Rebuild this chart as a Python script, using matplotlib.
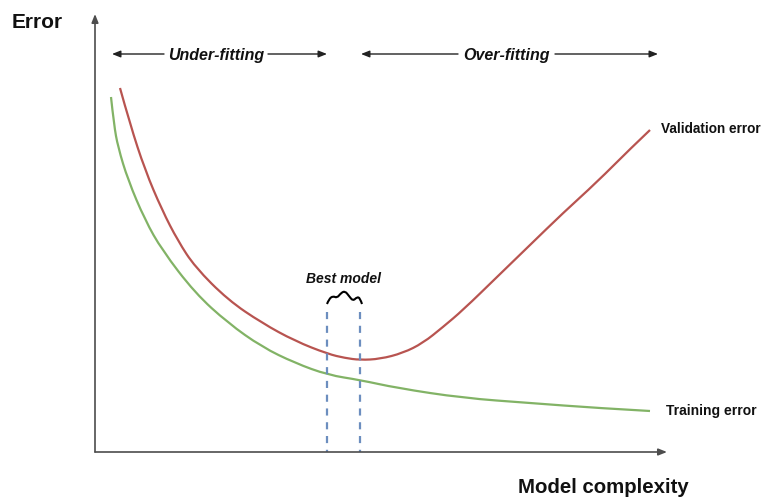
import matplotlib
matplotlib.use('Agg')
import matplotlib.pyplot as plt
from matplotlib.path import Path
from matplotlib.patches import PathPatch

plt.rcParams['font.family'] = ['Liberation Sans', 'DejaVu Sans']

# Curves (pixel space: x to the right, y downwards)
val_x = [120, 130, 145, 162, 178, 195, 228, 262, 295, 328, 345, 360, 380, 403, 423,
         443, 463, 497, 530, 563, 597, 630, 650]
val_y = [88, 124, 170, 210, 241, 267, 300, 323, 341, 354, 358, 360, 359, 353, 343,
         327, 310, 277, 245, 213, 182, 149, 130]

train_x = [111, 114, 118, 128, 145, 162, 195, 228, 262, 295, 328, 360, 397, 463, 530,
           597, 650]
train_y = [97, 125, 147, 180, 220, 250, 293, 323, 347, 363, 375, 380, 388, 398, 403,
           408, 411]

best_x = [327, 360]          # the two dashed "best model" bounds
squiggle_x = [327, 329, 333, 337, 341, 345, 349, 353, 357, 360, 362]
squiggle_y = [304, 299, 296, 298, 293, 291, 296, 301, 297, 298, 304]

RED = '#b85450'
GREEN = '#82b366'
BLUE = '#6c8ebf'
AXIS = '#4d4d4d'


def smooth_path(xs, ys):
    """Quadratic bezier through midpoints, using the read points as controls."""
    pts = list(zip(xs, ys))
    verts = [pts[0]]
    codes = [Path.MOVETO]
    for i in range(1, len(pts) - 1):
        mid = ((pts[i][0] + pts[i + 1][0]) / 2, (pts[i][1] + pts[i + 1][1]) / 2)
        if i == len(pts) - 2:
            mid = pts[-1]
        verts += [pts[i], mid]
        codes += [Path.CURVE3, Path.CURVE3]
    return Path(verts, codes)


def draw_curve(ax, xs, ys, color, lw):
    ax.add_patch(PathPatch(smooth_path(xs, ys), facecolor='none', edgecolor=color,
                           lw=lw, joinstyle='round', capstyle='butt'))


fig = plt.figure(figsize=(7.64, 4.98), dpi=100)
ax = fig.add_axes([0, 0, 1, 1])
ax.set_xlim(0, 764)
ax.set_ylim(498, 0)
ax.axis('off')

# axes with arrow heads
arrow = dict(arrowstyle='-|>,head_length=0.5,head_width=0.2', color=AXIS, lw=1.2,
             shrinkA=0, shrinkB=0)
ax.annotate('', xy=(95, 14), xytext=(95, 452), arrowprops=arrow)
ax.annotate('', xy=(667, 452), xytext=(95, 452), arrowprops=arrow)

# curves
draw_curve(ax, val_x, val_y, RED, 1.6)
draw_curve(ax, train_x, train_y, GREEN, 1.6)

# best model region
for bx in best_x:
    ax.plot([bx, bx], [312, 452], color=BLUE, lw=1.6, ls=(0, (3.2, 3.0)))
draw_curve(ax, squiggle_x, squiggle_y, 'black', 1.5)
ax.text(344, 279, 'Best model', ha='center', va='center', fontsize=10,
        fontweight='bold', fontstyle='italic', color='#111111')

# fitting regions
harrow = dict(arrowstyle='-|>,head_length=0.5,head_width=0.2', color='#222222', lw=1.0,
              shrinkA=0, shrinkB=0)
ax.annotate('', xy=(112, 54), xytext=(164, 54), arrowprops=harrow)
ax.annotate('', xy=(327, 54), xytext=(268, 54), arrowprops=harrow)
ax.text(216, 55, 'Under-fitting', ha='center', va='center', fontsize=11.5,
        fontweight='bold', fontstyle='italic', color='#111111')
ax.annotate('', xy=(361, 54), xytext=(458, 54), arrowprops=harrow)
ax.annotate('', xy=(658, 54), xytext=(555, 54), arrowprops=harrow)
ax.text(506, 55, 'Over-fitting', ha='center', va='center', fontsize=11.5,
        fontweight='bold', fontstyle='italic', color='#111111')

# labels
ax.text(12, 22, 'Error', ha='left', va='center', fontsize=15, fontweight='bold',
        color='#111111')
ax.text(518, 487, 'Model complexity', ha='left', va='center', fontsize=14.7,
        fontweight='bold', color='#111111')
ax.text(661, 129, 'Validation error', ha='left', va='center', fontsize=9.8,
        fontweight='bold', color='#111111')
ax.text(666, 411, 'Training error', ha='left', va='center', fontsize=10,
        fontweight='bold', color='#111111')

fig.savefig('out.png', dpi=100, facecolor='white')
